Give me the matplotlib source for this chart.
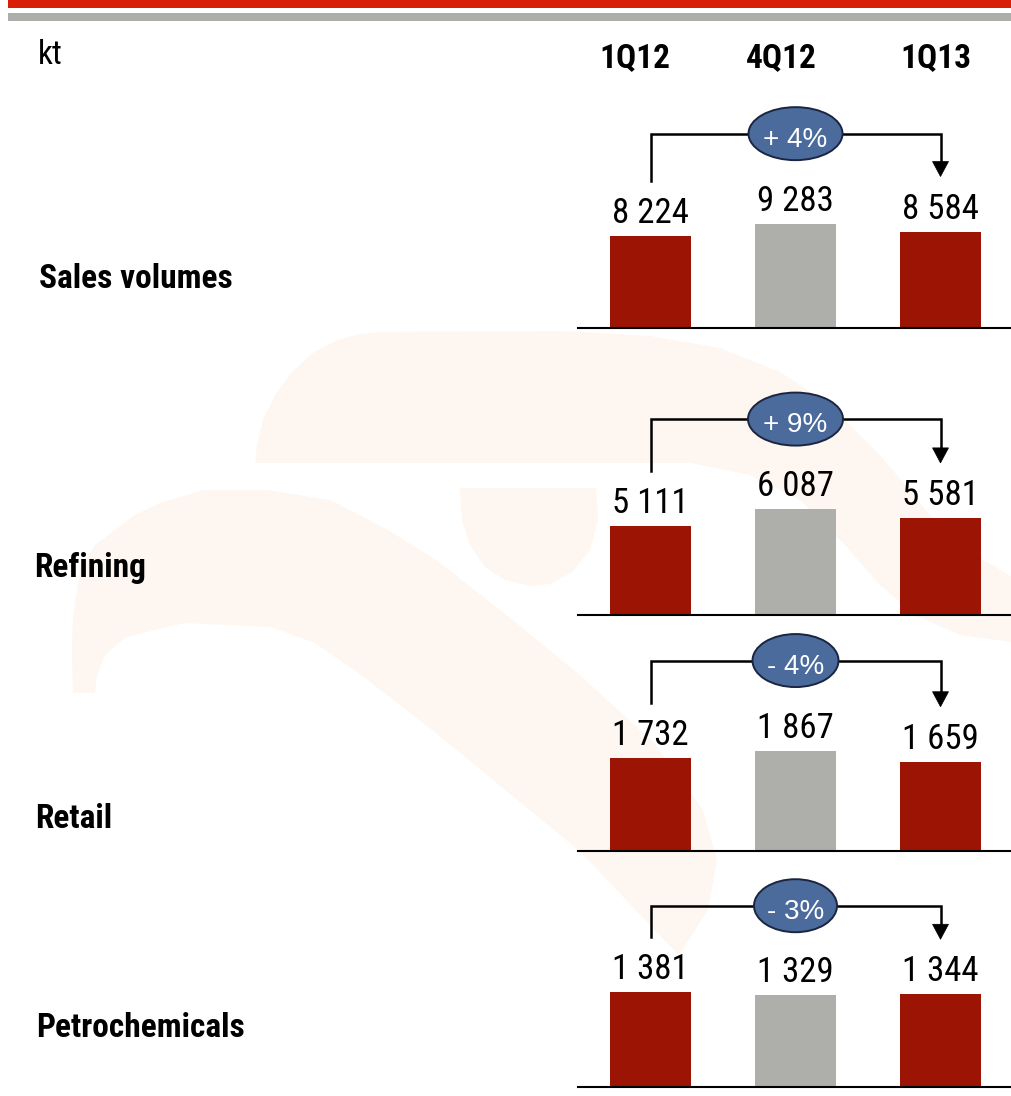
import matplotlib.pyplot as plt
from matplotlib import font_manager as fm
from matplotlib.patches import Ellipse, Polygon, Rectangle

W, H = 1012, 1096

# data
periods = ['1Q12', '4Q12', '1Q13']
segments = ['Sales volumes', 'Refining', 'Retail', 'Petrochemicals']
sales = [8224, 9283, 8584]
refining = [5111, 6087, 5581]
retail = [1732, 1867, 1659]
petrochem = [1381, 1329, 1344]
changes = ['+ 4%', '+ 9%', '- 4%', '- 3%']
panel_values = [sales, refining, retail, petrochem]

# layout (pixels)
baselines = [328, 615, 851, 1087]
px_per_unit = [0.01124, 0.0174, 0.0538, 0.069]
bracket_off = [90, 90, 90, 86]
ellipse_w = [94, 95, 86, 83]
label_y = [288, 577, 828, 1037]
label_x = [39, 34, 35, 36]
header_x = [635, 781, 936]

red = '#9C1404'
gray = '#AEAEAA'


def weight_of(f):
    w = f.weight
    if isinstance(w, str):
        w = fm.weight_dict.get(w, 400)
    return w


def narrow_font(bold):
    # look for an installed narrow / condensed sans face
    prefs = ['liberation sans narrow', 'arial narrow', 'roboto condensed',
             'noto sans', 'open sans', 'lato', 'dejavu sans']
    best = None
    for f in fm.fontManager.ttflist:
        key = (f.name + ' ' + f.fname).lower()
        if 'narrow' not in key and 'condensed' not in key:
            continue
        if any(t in key for t in ['semi', 'extra', 'ultra', 'italic', 'oblique',
                                  'mono', 'serif', 'display']):
            continue
        w = weight_of(f)
        if bold and w < 700 or not bold and w != 400:
            continue
        rank = next((k for k, p in enumerate(prefs) if p in key), len(prefs))
        if best is None or rank < best[0]:
            best = (rank, f.fname)
    if best:
        return fm.FontProperties(fname=best[1]), 1.0
    return fm.FontProperties(family=['Liberation Sans', 'DejaVu Sans'],
                             weight='bold' if bold else 'normal'), 0.86


reg_fp, reg_k = narrow_font(False)
bold_fp, bold_k = narrow_font(True)


def fp(base, k, size):
    p = base.copy()
    p.set_size(size * k)
    return p


fig = plt.figure(figsize=(W / 100, H / 100), dpi=100)
bg = fig.add_axes([0, 0, 1, 1], zorder=0)
bg.set_xlim(0, W)
bg.set_ylim(H, 0)
bg.axis('off')

# faint logo watermark
wm = '#FEF6F0'
upper = [(383, 332), (560, 331), (650, 336), (720, 348), (780, 372), (830, 405),
         (880, 455), (930, 515), (970, 552), (1012, 577), (1012, 642), (960, 635),
         (915, 615), (880, 585), (845, 545), (800, 500), (750, 475), (690, 463),
         (255, 463), (257, 445), (263, 420), (275, 395), (292, 372), (313, 353),
         (338, 340), (360, 334)]
blob = [(460, 488), (596, 488), (598, 520), (590, 550), (572, 572), (550, 584),
        (530, 586), (505, 580), (485, 567), (470, 545), (462, 520)]
swoosh = [(73, 693), (72, 650), (73, 617), (80, 570), (95, 545), (111, 533),
          (135, 515), (160, 503), (204, 490), (267, 490), (330, 500), (388, 530),
          (436, 560), (509, 617), (582, 677), (654, 743), (703, 810), (717, 860),
          (708, 910), (679, 955), (645, 920), (582, 853), (509, 793), (436, 733),
          (364, 677), (315, 643), (271, 627), (184, 623), (126, 637), (105, 655),
          (97, 675), (95, 693)]
for pts in [upper, blob, swoosh]:
    bg.add_patch(Polygon(pts, closed=True, fc=wm, ec='none'))

# header stripes
bg.add_patch(Rectangle((8, 0), W - 8, 8, fc='#D91E06', ec='none'))
bg.add_patch(Rectangle((8, 13), W - 8, 8, fc='#ADADA9', ec='none'))

bg.text(38, 64, 'kt', fontproperties=fp(reg_fp, reg_k, 24), va='baseline')
for hx, p in zip(header_x, periods):
    bg.text(hx, 67, p, fontproperties=fp(bold_fp, bold_k, 24),
            ha='center', va='baseline')

for lx, ly, name in zip(label_x, label_y, segments):
    bg.text(lx, ly, name, fontproperties=fp(bold_fp, bold_k, 24), va='baseline')

x = [0, 1, 2]
spacing = 145.0
axh = 260
for i, vals in enumerate(panel_values):
    b = baselines[i]
    s = px_per_unit[i]
    ax = fig.add_axes([578 / W, 1 - b / H, 434 / W, axh / H], zorder=1)
    ax.patch.set_visible(False)
    ax.set_xlim(-0.5, 2.493)
    ax.set_ylim(0, axh / s)
    ax.bar(x, vals, width=81 / spacing, color=[red, gray, red], zorder=2)
    for sp in ['top', 'left', 'right']:
        ax.spines[sp].set_visible(False)
    ax.spines['bottom'].set_linewidth(1.5)
    ax.set_xticks([])
    ax.set_yticks([])

    for xi, v in zip(x, vals):
        ax.annotate(f'{v:,}'.replace(',', ' '), (xi, v), xytext=(0, 13 * 0.72),
                    textcoords='offset points', ha='center', va='baseline',
                    fontproperties=fp(reg_fp, reg_k, 25), annotation_clip=False)

    yb = max(vals) + bracket_off[i] / s
    y0 = vals[0] + 55 / s
    y2 = vals[2] + 55 / s
    head = 15 / s
    ax.plot([0, 0, 2, 2], [y0, yb, yb, y2 + head], color='black', lw=1.8,
            solid_joinstyle='miter', zorder=3, clip_on=False)
    hw = 8 / spacing
    ax.add_patch(Polygon([(2 - hw, y2 + head), (2 + hw, y2 + head), (2, y2)],
                         closed=True, fc='black', ec='black', lw=0.5, zorder=3,
                         clip_on=False))
    ax.add_patch(Ellipse((1, yb), ellipse_w[i] / spacing, 53 / s, fc='#4A6B9C',
                         ec='#1B2540', lw=1.4, zorder=4, clip_on=False))
    ax.text(1, yb - 13 / s, changes[i], ha='center', va='baseline', color='white',
            fontsize=20, family=['Liberation Sans', 'DejaVu Sans'], zorder=5)

fig.savefig('out.png', dpi=100)
